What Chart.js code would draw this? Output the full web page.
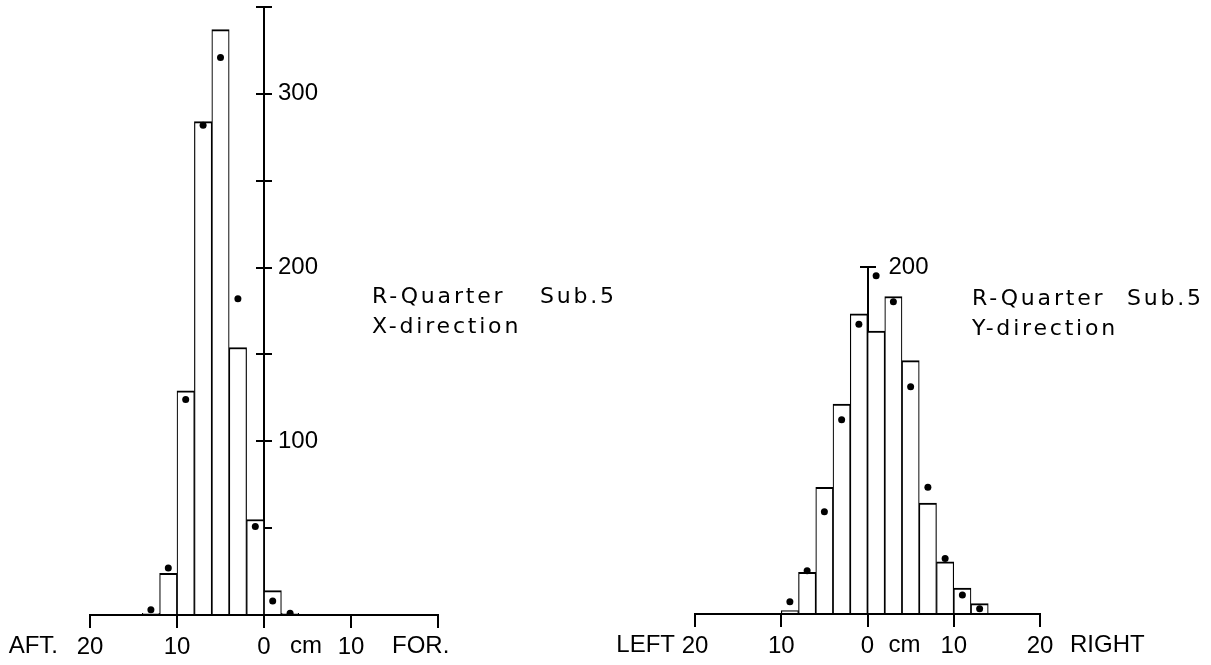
<!DOCTYPE html>
<html>
<head>
<meta charset="utf-8">
<script src="https://cdn.jsdelivr.net/npm/chart.js@4.4.1/dist/chart.umd.min.js"></script>
<style>
  html, body { margin: 0; padding: 0; background: #fff; }
  #wrap { position: relative; width: 1211px; height: 665px; overflow: hidden; }
  canvas { position: absolute; left: 0; top: 0; }
</style>
</head>
<body>
<div id="wrap">
  <canvas id="xChart" width="1211" height="665"></canvas>
  <canvas id="yChart" width="1211" height="665"></canvas>
</div>
<script>
// bin centres in cm, 2 cm bins (negative = AFT / LEFT side)
const xBins = [-13, -11, -9, -7, -5, -3, -1, 1, 3];
const xCounts = [1, 24, 129, 284, 337, 154, 55, 14, 1];
const xFitted = [3, 27, 124, 282, 321, 182, 51, 8, 1];

const yBins = [-9, -7, -5, -3, -1, 1, 3, 5, 7, 9, 11, 13];
const yCounts = [2, 24, 73, 121, 173, 163, 183, 146, 64, 30, 15, 6];
const yFitted = [7, 25, 59, 112, 167, 195, 180, 131, 73, 32, 11, 3];

const cmTicks = [-20, -10, 0, 10, 20];
const xTickText = ['20', '10', '0', '10', ''];
const yTickText = ['20', '10', '0', '10', '20'];
const xCountLabels = [100, 200, 300];
const yCountLabels = [200];

const FONT = "'Liberation Sans', Arial, sans-serif";
const CAPTION_FONT = "'DejaVu Sans', sans-serif";

// axis words, count labels and captions, placed from the chart's own scales
const plotText = {
  id: 'plotText',
  afterDraw(chart, args, opts) {
    const ctx = chart.ctx;
    const sx = chart.scales.x, sy = chart.scales.y;
    const x0 = sx.getPixelForValue(0);
    const y0 = sy.getPixelForValue(0);
    ctx.save();
    ctx.fillStyle = '#000';
    ctx.font = '24px ' + FONT;
    ctx.textAlign = 'left';
    ctx.textBaseline = 'middle';
    opts.countLabels.forEach(v => ctx.fillText(String(v), x0 + opts.countGap, sy.getPixelForValue(v)));
    ctx.textBaseline = 'alphabetic';
    opts.words.forEach(w => {
      ctx.font = w.caption ? '22px ' + CAPTION_FONT : '24px ' + FONT;
      ctx.letterSpacing = (w.caption ? 2.8 : 0) + 'px';
      ctx.textAlign = w.align || 'left';
      ctx.fillText(w.text, sx.getPixelForValue(w.at) + w.dx, y0 + w.dy);
    });
    ctx.restore();
  }
};

function histogram(canvasId, bins, counts, fitted, tickText, yMax, padding, text) {
  const ctx = document.getElementById(canvasId).getContext('2d');
  const axisGrid = { drawOnChartArea: false, drawTicks: true, offset: false, color: '#000', lineWidth: 2 };
  return new Chart(ctx, {
    type: 'bar',
    data: {
      datasets: [{
        type: 'scatter',
        data: bins.map((b, i) => ({ x: b, y: fitted[i] })),
        pointRadius: 3.5,
        pointBorderWidth: 0,
        backgroundColor: '#000',
        order: 0
      }, {
        type: 'bar',
        data: bins.map((b, i) => ({ x: b, y: counts[i] })),
        backgroundColor: '#fff',
        borderColor: '#000',
        borderWidth: { top: 2, left: 1.2, right: 1.2, bottom: 0 },
        barPercentage: 1,
        categoryPercentage: 1,
        order: 1
      }]
    },
    options: {
      responsive: false,
      animation: false,
      events: [],
      layout: { padding: padding },
      plugins: { legend: { display: false }, tooltip: { enabled: false }, plotText: text },
      scales: {
        x: {
          type: 'linear',
          position: 'bottom',
          offset: false,
          min: -20,
          max: 20,
          afterFit: s => { s.height = 50; },
          grid: Object.assign({}, axisGrid, { tickLength: 13 }),
          border: { display: true, color: '#000', width: 2 },
          ticks: {
            stepSize: 10,
            autoSkip: false,
            maxRotation: 0,
            padding: 5,
            color: '#000',
            font: { family: FONT, size: 24 },
            callback: v => { const i = cmTicks.indexOf(v); return i < 0 ? '' : tickText[i]; }
          }
        },
        y: {
          type: 'linear',
          axis: 'y',
          position: { x: 0 },
          min: 0,
          max: yMax,
          z: 1,
          afterFit: s => { s.width = 0; },
          grid: Object.assign({}, axisGrid, { tickLength: 7 }),
          border: { display: true, color: '#000', width: 2 },
          ticks: { stepSize: 50, display: false }
        },
        yr: {
          type: 'linear',
          axis: 'y',
          position: { x: 0 },
          min: 0,
          max: yMax,
          z: 1,
          afterFit: s => { s.width = 0; },
          grid: Object.assign({}, axisGrid, { tickLength: -8 }),
          border: { display: false },
          ticks: { stepSize: 50, display: false }
        }
      }
    },
    plugins: [plotText]
  });
}

histogram('xChart', xBins, xCounts, xFitted, xTickText, 350,
  { left: 90, right: 773, top: 7, bottom: 0 },
  {
    countLabels: xCountLabels,
    countGap: 14,
    words: [
      { text: 'AFT.', at: -20, dx: -32, dy: 38, align: 'right' },
      { text: 'cm', at: 0, dx: 26, dy: 38 },
      { text: 'FOR.', at: 20, dx: -46, dy: 38 },
      { text: 'R-Quarter', at: 0, dx: 108, dy: -312, caption: true },
      { text: 'Sub.5', at: 0, dx: 276, dy: -312, caption: true },
      { text: 'X-direction', at: 0, dx: 108, dy: -282, caption: true }
    ]
  });

histogram('yChart', yBins, yCounts, yFitted, yTickText, 200,
  { left: 695, right: 171, top: 267, bottom: 1 },
  {
    countLabels: yCountLabels,
    countGap: 21,
    words: [
      { text: 'LEFT', at: -20, dx: -20, dy: 38, align: 'right' },
      { text: 'cm', at: 0, dx: 21, dy: 38 },
      { text: 'RIGHT', at: 20, dx: 30, dy: 38 },
      { text: 'R-Quarter', at: 0, dx: 104.5, dy: -309, caption: true },
      { text: 'Sub.5', at: 0, dx: 259.5, dy: -309, caption: true },
      { text: 'Y-direction', at: 0, dx: 104.5, dy: -279, caption: true }
    ]
  });
</script>
</body>
</html>
